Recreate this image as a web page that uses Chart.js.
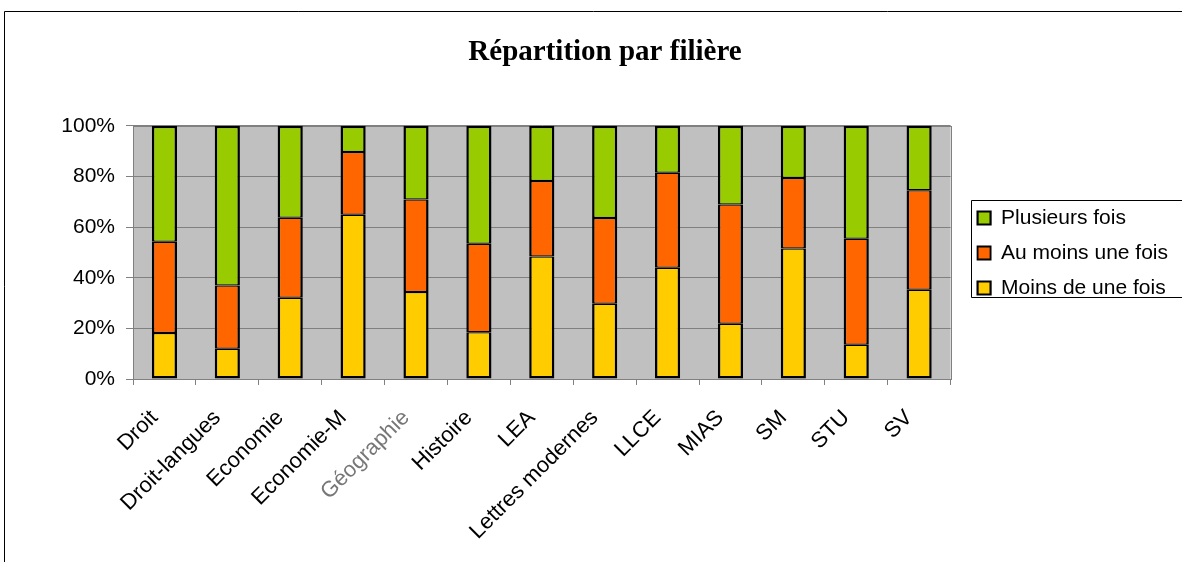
<!DOCTYPE html>
<html>
<head>
<meta charset="utf-8">
<script src="https://cdn.jsdelivr.net/npm/chart.js@4"></script>
<style>
  body { margin: 0; background: #fff; }
</style>
</head>
<body>
<canvas id="myChart" width="1182" height="562"></canvas>
<script>
const ctx = document.getElementById('myChart').getContext('2d');

const filieres = ['Droit', 'Droit-langues', 'Economie', 'Economie-M', 'Géographie', 'Histoire', 'LEA',
  'Lettres modernes', 'LLCE', 'MIAS', 'SM', 'STU', 'SV'];
const moinsDeUneFois = [18.2, 11.9, 32.1, 64.9, 34.4, 18.5, 48.4, 29.7, 43.9, 21.8, 51.5, 13.5, 35.2];
const auMoinsUneFois = [36.0, 25.0, 31.6, 24.8, 36.5, 34.9, 29.8, 33.9, 37.6, 47.1, 27.9, 41.9, 39.3];
const plusieursFois = [45.8, 63.1, 36.3, 10.3, 29.1, 46.6, 21.8, 36.4, 18.5, 31.1, 20.6, 44.6, 25.5];
const yTicks = [0, 20, 40, 60, 80, 100];

const font = 'Liberation Sans, Arial, sans-serif';

// fond gris, cadre, position + bordure de la légende
const decor = {
  id: 'decor',
  afterLayout(chart) {
    const lg = chart.legend;
    lg.left += 13;
    lg.right += 13;
    lg.top -= 34;
    lg.bottom -= 34;
  },
  beforeDraw(chart) {
    const c = chart.ctx;
    const a = chart.chartArea;
    c.save();
    c.fillStyle = '#fff';
    c.fillRect(0, 0, chart.width, chart.height);
    c.fillStyle = '#C0C0C0';
    c.fillRect(a.left, a.top, a.right - a.left, a.bottom - a.top);
    c.strokeStyle = '#000';
    c.lineWidth = 1;
    c.beginPath();
    c.moveTo(4.5, chart.height);
    c.lineTo(4.5, 11.5);
    c.lineTo(chart.width, 11.5);
    c.stroke();
    c.restore();
  },
  beforeDatasetsDraw(chart) {
    const c = chart.ctx;
    const a = chart.chartArea;
    c.save();
    c.strokeStyle = '#808080';
    c.lineWidth = 1;
    c.strokeRect(Math.round(a.left) + 0.5, Math.round(a.top) + 0.5, Math.round(a.right - a.left), Math.round(a.bottom - a.top));
    c.restore();
  },
  afterDraw(chart) {
    const hb = chart.legend.legendHitBoxes;
    if (!hb || !hb.length) return;
    const c = chart.ctx;
    const last = hb[hb.length - 1];
    const x = Math.round(hb[0].left - 7) + 0.5;
    const y = Math.round(hb[0].top - 8) + 0.5;
    const b = Math.round(last.top + last.height - 2) + 0.5;
    c.save();
    c.strokeStyle = '#000';
    c.lineWidth = 1;
    c.beginPath();
    c.moveTo(chart.width + 2, y);
    c.lineTo(x, y);
    c.lineTo(x, b);
    c.lineTo(chart.width + 2, b);
    c.stroke();
    c.restore();
  },
};

const myChart = new Chart(ctx, {
  type: 'bar',
  data: {
    labels: filieres,
    datasets: [{
      label: 'Moins de une fois',
      data: moinsDeUneFois,
      backgroundColor: '#FFCC00',
      borderColor: '#000',
      borderWidth: { top: 1.25, bottom: 2.5, left: 2.5, right: 2.5 },
    }, {
      label: 'Au moins une fois',
      data: auMoinsUneFois,
      backgroundColor: '#FF6600',
      borderColor: '#000',
      borderWidth: { top: 1.25, bottom: 1.25, left: 2.5, right: 2.5 },
    }, {
      label: 'Plusieurs fois',
      data: plusieursFois,
      backgroundColor: '#99CC00',
      borderColor: '#000',
      borderWidth: { top: 2.5, bottom: 1.25, left: 2.5, right: 2.5 },
    }],
  },
  options: {
    responsive: false,
    animation: false,
    devicePixelRatio: 1,
    datasets: {
      bar: {
        barPercentage: 0.4,
        categoryPercentage: 1,
        borderSkipped: false,
      },
    },
    layout: {
      padding: { top: 12, left: 45, right: 17, bottom: 0 },
    },
    plugins: {
      title: {
        display: true,
        text: 'Répartition par filière',
        color: '#000',
        font: { family: 'Liberation Serif, Times New Roman, serif', size: 29, weight: 'bold' },
        padding: { top: 23, bottom: 56 },
      },
      legend: {
        position: 'right',
        reverse: true,
        labels: {
          color: '#000',
          font: { family: font, size: 21 },
          boxWidth: 13,
          boxHeight: 13,
          padding: 14,
        },
      },
      tooltip: { enabled: false },
    },
    scales: {
      x: {
        stacked: true,
        grid: {
          offset: true,
          drawOnChartArea: false,
          color: '#808080',
          tickLength: 6,
        },
        border: { color: '#808080' },
        ticks: {
          autoSkip: false,
          maxRotation: 45,
          minRotation: 45,
          padding: 20,
          labelOffset: -10,
          font: { family: font, size: 22 },
          color: (c) => (c.index === 4 ? '#777' : '#000'),
        },
        afterFit(scale) {
          scale.height = 183;
        },
      },
      y: {
        stacked: true,
        min: 0,
        max: 100,
        afterBuildTicks(scale) {
          scale.ticks = yTicks.map((v) => ({ value: v }));
        },
        grid: {
          color: '#808080',
          tickLength: 7,
        },
        border: { color: '#808080' },
        ticks: {
          padding: 11,
          color: '#000',
          font: { family: font, size: 21 },
          callback: (v) => v + '%',
        },
        afterFit(scale) {
          scale.width = 88;
        },
      },
    },
  },
  plugins: [decor],
});
</script>
</body>
</html>
